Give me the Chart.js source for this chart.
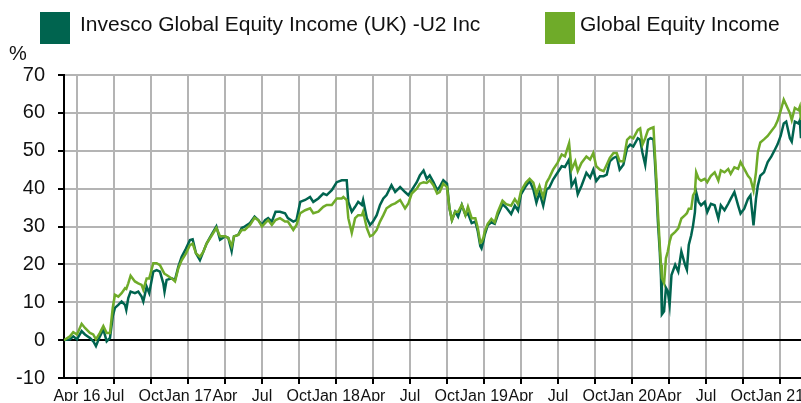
<!DOCTYPE html>
<html>
<head>
<meta charset="utf-8">
<title>Cumulative performance</title>
<script src="https://cdn.jsdelivr.net/npm/chart.js@4.4.1/dist/chart.umd.min.js"></script>
<style>
    html, body { margin: 0; padding: 0; background: #fff; }
    #wrap { position: relative; width: 801px; height: 403px; }
</style>
</head>
<body>
<div id="wrap"><canvas id="perfChart"></canvas></div>
<script>
// Months since 1 Apr 2016 for each reading
const months = [
    -1.05, -0.57, -0.3, 0, 0.38, 0.65, 1.05, 1.32, 1.54, 1.86, 2.14, 2.41, 2.68, 2.9, 3.08, 3.35, 3.62, 3.9, 4.0,
    4.16, 4.35, 4.7, 4.97, 5.24, 5.38, 5.65, 5.86, 6.19, 6.46, 6.73, 7.0, 7.1, 7.27, 7.68, 7.95, 8.22, 8.49, 8.84,
    9.16, 9.38, 9.65, 9.97, 10.24, 10.51, 10.9, 11.3, 11.6, 12.0, 12.27, 12.54, 12.73, 13.08, 13.36, 13.6, 14.03,
    14.4, 14.7, 15.0, 15.25, 15.5, 15.8, 16.1, 16.46, 16.87, 17.1, 17.54, 17.8, 18.1, 18.5, 18.9, 19.16, 19.57,
    19.97, 20.25, 20.66, 21.06, 21.47, 21.6, 21.87, 22.0, 22.28, 22.55, 22.8, 23.1, 23.2, 23.5, 23.76, 24.0, 24.3,
    24.57, 24.84, 25.1, 25.5, 25.8, 26.2, 26.6, 26.87, 27.14, 27.55, 27.8, 28.1, 28.36, 28.6, 28.9, 29.2, 29.4,
    29.7, 30.0, 30.2, 30.4, 30.66, 30.9, 31.2, 31.5, 31.7, 32.0, 32.3, 32.5, 32.7, 32.8, 32.95, 33.05, 33.3, 33.6,
    33.87, 34.1, 34.5, 34.8, 35.2, 35.5, 35.76, 36.0, 36.4, 36.7, 37.0, 37.25, 37.5, 37.8, 38.07, 38.3, 38.6,
    38.96, 39.3, 39.56, 39.9, 40.1, 40.4, 40.6, 40.9, 41.3, 41.6, 41.86, 42.1, 42.4, 42.7, 42.95, 43.2, 43.5,
    43.76, 44.0, 44.3, 44.6, 44.85, 45.1, 45.47, 45.66, 45.85, 46.07, 46.3, 46.5, 46.74, 46.85, 46.98, 47.1,
    47.25, 47.35, 47.42, 47.6, 47.75, 47.9, 48.05, 48.2, 48.5, 48.75, 49.0, 49.3, 49.45, 49.6, 49.8, 49.95,
    50.1, 50.2, 50.4, 50.6, 50.9, 51.1, 51.4, 51.7, 52.0, 52.2, 52.5, 52.8, 53.0, 53.3, 53.6, 53.8, 54.1,
    54.4, 54.6, 54.85, 55.05, 55.2, 55.4, 55.7, 56.0, 56.3, 56.6, 56.8, 57.05, 57.3, 57.5, 57.8, 57.95, 58.2,
    58.5, 58.6, 58.7
];

// Invesco Global Equity Income (UK) -U2 Inc, cumulative %
const fundReturns = [
    0, 0.2, 1, 0.2, 2.4, 1.5, 0.6, -0.3, -1.6, 1, 2.8, -0.3, 0.6, 6.3, 8.5, 9.3, 10.2, 9.3, 8,
    11.1, 12.8, 12.4, 12.8, 11.5, 10.2, 14.1, 12.4, 18.1, 18.5, 18.1, 15, 12.8, 15.9, 16.3, 15.9, 19.4, 22, 24.2,
    26.4, 26.6, 22.9, 21.1, 23.3, 25.5, 27.8, 30, 26.5, 27.4, 27, 23.5, 27.4, 27.8, 29.6, 30, 30.9,
    32.6, 31.7, 30.4, 31.7, 32.2, 31.3, 33.9, 33.9, 33.5, 32.2, 31.3, 31.7, 36.5, 37, 37.8, 36.5, 37.4,
    38.7, 38.3, 39.6, 41.7, 42.2, 42.2, 42.2, 36.5, 33.9, 35.2, 36.5, 35.7, 37, 32.2, 30.4, 31.3, 33,
    35.7, 37.4, 38.3, 40.9, 39.1, 40.4, 39.1, 38.3, 39.6, 41.7, 43.5, 44.8, 42.6, 43.5, 41.7, 39.6, 40.4,
    42.2, 41.3, 34.8, 31.7, 33.9, 32.6, 35.7, 33, 33.5, 30.9, 31.3, 28.7, 24.8, 24.2, 26.1, 27.7, 30.3, 31.1,
    30.7, 32.9, 35.9, 35, 33.3, 35.5, 34.2, 38.5, 40.7, 42, 39.8, 36.3, 39, 35.5, 39.8, 40.3, 42.4,
    44.2, 45.9, 45.7, 47.7, 40.7, 42.4, 38.5, 40.7, 44.2, 42.9, 45, 42, 43.3, 43.3, 43.7, 47.2, 48.1,
    48.5, 45, 46.3, 50.7, 51.6, 51.1, 53.3, 52.9, 49.4, 46.3, 52.9, 53.3, 53, 47.6, 39.8, 31.2,
    23.4, 16.4, 6.8, 7.6, 13.8, 12.9, 9.4, 17.2, 19.9, 18.1, 23.4, 19.9, 18.6, 25.1, 27.7, 30.3,
    33.8, 39.1, 36.5, 35.6, 36.5, 33.8, 36, 35.6, 32.1, 35.6, 34.3, 36, 37.3, 39.1, 35.6, 33.4, 34.7,
    37.3, 38.2, 30.3, 37.3, 40.8, 43.4, 44.3, 47, 48.5, 50.4, 51.7, 53.9, 57.2, 57.7, 53.3, 52.4, 57.7,
    57.2, 58, 53.3
];

// Global Equity Income sector average, cumulative %
const sectorReturns = [
    0, 1, 2.1, 1.5, 4.3, 3.2, 1.9, 1.5, 0.2, 1.9, 3.7, 1.9, 1.9, 8.5, 12, 11.5, 12.4, 13.7, 13.5,
    15, 17, 15.5, 15, 14.6, 13.3, 16.3, 16.3, 20.3, 20.3, 19.8, 18.1, 17.5, 17.2, 16.3, 15.5, 19, 21.1, 22.9,
    25.1, 25.5, 22.9, 22, 23.3, 25.5, 27.5, 29.6, 27.4, 27.4, 27, 24.8, 27.4, 27.8, 29.1, 29.1, 30.4,
    32.3, 31.7, 30, 30.9, 31.7, 30.4, 31.7, 32.2, 31.3, 31.3, 29.1, 30.4, 33.5, 34.3, 34.8, 33.5, 33.9,
    35.2, 35.7, 35.7, 37.4, 37.4, 37.8, 37, 32.2, 28.3, 32.2, 33, 33, 33.9, 29.6, 27.4, 27.8, 29.1,
    31.3, 33, 34.8, 35.7, 36.1, 37, 34.8, 36.1, 38.7, 40, 41.3, 41.7, 41.5, 42.2, 40.9, 38.7, 39.1,
    41.3, 40.4, 34.8, 31.7, 33.9, 33.9, 35.7, 33, 35.2, 32.2, 32.2, 29.6, 25.7, 25.9, 27, 28.5, 30.7, 32,
    31.1, 33.7, 36.8, 35.9, 35.5, 37.2, 35.9, 39.4, 41.6, 42.6, 41.6, 38.5, 40.7, 37.7, 41.6, 42.9, 45,
    46.8, 49, 48.5, 52, 45, 47.2, 44.6, 46.8, 48.5, 47.7, 49.4, 45.9, 45, 44.6, 46.3, 48.1, 49.4,
    49.4, 47.2, 47.2, 52.9, 53.7, 53.3, 55.5, 55.9, 51.6, 53.3, 55.5, 55.9, 56.2, 49.4, 42.4, 33.8,
    25.1, 19.9, 16.4, 15, 21.6, 23.4, 26, 27.7, 28.6, 29.5, 32.1, 33, 33.5, 34.7, 34.7, 38.2,
    39.1, 44.3, 42.6, 42.1, 42.6, 41.7, 43.4, 44.3, 42.1, 44.8, 44.3, 45.2, 43.9, 45.6, 45.2, 47, 45.2,
    43.4, 42.6, 39.5, 44.3, 49.6, 52.2, 53, 53.9, 55.2, 56.5, 57.9, 60.5, 63.5, 62.1, 59.9, 58.1, 61.3,
    60.7, 61.6, 58.1
];

// Quarter starts (months since Apr 2016) and their axis labels
const tickMonths = [0, 3, 6, 9, 12, 15, 18, 21, 24, 27, 30, 33, 36, 39, 42, 45, 48, 51, 54, 57];
const tickLabels = ['Apr 16', 'Jul', 'Oct', 'Jan 17', 'Apr', 'Jul', 'Oct', 'Jan 18', 'Apr', 'Jul',
    'Oct', 'Jan 19', 'Apr', 'Jul', 'Oct', 'Jan 20', 'Apr', 'Jul', 'Oct', 'Jan 21'];

const seriesNames = ['Invesco Global Equity Income (UK) -U2 Inc', 'Global Equity Income'];

const darkGreen = '#00644f';
const lightGreen = '#6fab29';
const gridGrey = '#b4b4b4';
const fontFamily = "'Liberation Sans', Arial, sans-serif";

const toPoints = (ys) => months.map((m, i) => ({ x: m, y: ys[i] }));

// Legend boxes and the "%" unit drawn on top of the chart
const headerPlugin = {
    id: 'header',
    afterDraw(chart) {
        const ctx = chart.ctx;
        const spots = [{ box: 40, text: 80 }, { box: 545, text: 580 }];
        ctx.save();
        ctx.font = '21px ' + fontFamily;
        ctx.textBaseline = 'middle';
        ctx.textAlign = 'left';
        chart.data.datasets.forEach((ds, i) => {
            ctx.fillStyle = ds.borderColor;
            ctx.fillRect(spots[i].box, 12, 30, 32);
            ctx.fillStyle = '#111';
            ctx.fillText(ds.label, spots[i].text, 25);
        });
        ctx.font = '20px ' + fontFamily;
        ctx.fillText('%', 9, 54);
        ctx.restore();
    }
};

new Chart(document.getElementById('perfChart'), {
    type: 'line',
    data: {
        datasets: [
            {
                label: seriesNames[0],
                data: toPoints(fundReturns),
                borderColor: darkGreen,
                backgroundColor: darkGreen,
                borderWidth: 2.5,
                pointRadius: 0,
                order: 1
            },
            {
                label: seriesNames[1],
                data: toPoints(sectorReturns),
                borderColor: lightGreen,
                backgroundColor: lightGreen,
                borderWidth: 2.5,
                pointRadius: 0,
                order: 0
            }
        ]
    },
    options: {
        responsive: true,
        maintainAspectRatio: false,
        animation: false,
        layout: { padding: { top: 75, left: 0, right: 0, bottom: 0 } },
        plugins: {
            legend: { display: false },
            tooltip: { enabled: false }
        },
        scales: {
            x: {
                type: 'linear',
                min: -1.05,
                max: 58.7,
                afterBuildTicks(scale) {
                    scale.ticks = tickMonths.map(v => ({ value: v }));
                },
                afterFit(scale) {
                    scale.height = 23;
                    scale.paddingLeft = 0;
                    scale.paddingRight = 0;
                },
                ticks: {
                    autoSkip: false,
                    maxRotation: 0,
                    padding: 3,
                    color: '#111',
                    font: { family: fontFamily, size: 16 },
                    callback: (value, index) => tickLabels[index]
                },
                grid: {
                    color: gridGrey,
                    lineWidth: 2,
                    tickColor: '#000',
                    tickLength: 6
                },
                border: { color: '#000', width: 2 }
            },
            y: {
                min: -10,
                max: 70,
                afterFit(scale) {
                    scale.width = 64;
                },
                ticks: {
                    stepSize: 10,
                    padding: 13,
                    color: '#111',
                    font: { family: fontFamily, size: 20 }
                },
                grid: {
                    color: (c) => (c.tick && c.tick.value === 0 ? '#000' : gridGrey),
                    lineWidth: 2,
                    tickColor: '#000',
                    tickLength: 6
                },
                border: { color: '#000', width: 2 }
            }
        }
    },
    plugins: [headerPlugin]
});
</script>
</body>
</html>
